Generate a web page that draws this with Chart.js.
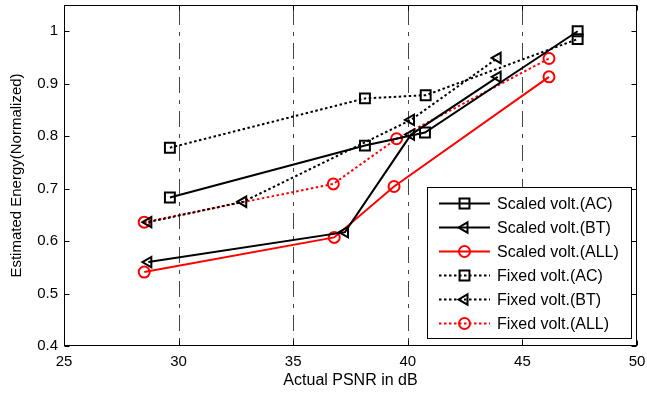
<!DOCTYPE html>
<html lang="en">
<head>
<meta charset="UTF-8" />
<title>Estimated Energy vs Actual PSNR</title>
<script src="https://cdn.jsdelivr.net/npm/chart.js@4"></script>
<style>
  html, body { margin: 0; padding: 0; background: #fff; }
  .chart-box { position: relative; width: 647px; height: 394px; }
</style>
</head>
<body>
<div class="chart-box"><canvas id="energyChart"></canvas></div>
<script>
// values
const seriesNames = [
  "Scaled volt.(AC)", "Scaled volt.(BT)", "Scaled volt.(ALL)",
  "Fixed volt.(AC)", "Fixed volt.(BT)", "Fixed volt.(ALL)"
];

const psnrScaledAC = [29.62, 38.13, 40.75, 47.41];
const energyScaledAC = [0.683, 0.782, 0.807, 1.0];
const psnrScaledBT = [28.68, 37.26, 40.14, 43.92];
const energyScaledBT = [0.560, 0.617, 0.803, 0.913];
const psnrScaledALL = [28.50, 36.79, 39.40, 46.16];
const energyScaledALL = [0.541, 0.607, 0.704, 0.913];

const psnrFixedAC = [29.62, 38.13, 40.78, 47.41];
const energyFixedAC = [0.778, 0.872, 0.878, 0.985];
const psnrFixedBT = [28.68, 32.82, 40.14, 43.92];
const energyFixedBT = [0.636, 0.675, 0.831, 0.949];
const psnrFixedALL = [28.50, 36.75, 39.51, 46.16];
const energyFixedALL = [0.636, 0.709, 0.795, 0.948];

const psnrTicks = [25, 30, 35, 40, 45, 50];
const energyTicks = [0.4, 0.5, 0.6, 0.7, 0.8, 0.9, 1.0];

const xValues = [psnrScaledAC, psnrScaledBT, psnrScaledALL, psnrFixedAC, psnrFixedBT, psnrFixedALL];
const yValues = [energyScaledAC, energyScaledBT, energyScaledALL, energyFixedAC, energyFixedBT, energyFixedALL];

// styles
const lineColors = ["#000", "#000", "#f00", "#000", "#000", "#f00"];
const dotted = [false, false, false, true, true, true];
const markers = ["rect", "triangle", "circle", "rect", "triangle", "circle"];
const markerRot = [0, -90, 0, 0, -90, 0];
const markerSize = [7, 6, 5.5, 7, 6, 5.5];
const DOTS = [2.5, 2.5];

Chart.defaults.font.family = '"Liberation Sans", Arial, Helvetica, sans-serif';
Chart.defaults.font.size = 15;
Chart.defaults.color = "#000";

function toPoints(xs, ys) {
  return xs.map((x, i) => ({ x: x, y: ys[i] }));
}

const datasets = seriesNames.map((name, i) => ({
  label: name,
  data: toPoints(xValues[i], yValues[i]),
  borderColor: lineColors[i],
  borderWidth: 2,
  borderDash: dotted[i] ? DOTS : [],
  pointStyle: markers[i],
  rotation: markerRot[i],
  pointRadius: markerSize[i],
  pointBorderWidth: 2,
  pointBorderColor: lineColors[i],
  pointBackgroundColor: "rgba(0,0,0,0)",
  tension: 0,
  fill: false
}));

function drawMarker(ctx, style, rot, r, x, y, color) {
  ctx.save();
  ctx.setLineDash([]);
  ctx.strokeStyle = color;
  ctx.lineWidth = 2;
  if (Chart.helpers && Chart.helpers.drawPoint) {
    ctx.fillStyle = "rgba(0,0,0,0)";
    Chart.helpers.drawPoint(ctx, { pointStyle: style, rotation: rot, radius: r, borderWidth: 2 }, x, y);
  } else {
    ctx.beginPath();
    if (style === "rect") {
      const s = r * Math.SQRT1_2;
      ctx.rect(x - s, y - s, 2 * s, 2 * s);
    } else if (style === "circle") {
      ctx.arc(x, y, r, 0, Math.PI * 2);
    } else {
      ctx.moveTo(x - r, y);
      ctx.lineTo(x + r / 2, y - r * 0.866);
      ctx.lineTo(x + r / 2, y + r * 0.866);
      ctx.closePath();
    }
    ctx.stroke();
  }
  ctx.restore();
}

// no extra room for edge labels: the plot box is fixed like the figure
function fixBox(s, size) {
  if (s.isHorizontal()) s.height = size; else s.width = size;
  s.paddingLeft = 0;
  s.paddingRight = 0;
  s.paddingTop = 0;
  s.paddingBottom = 0;
}

const matlabAxes = {
  id: "matlabAxes",
  beforeDatasetsDraw(chart) {
    const { ctx, chartArea: a, scales } = chart;
    ctx.save();
    ctx.strokeStyle = "#444";
    ctx.lineWidth = 1;
    ctx.setLineDash([16, 7, 4, 7]);
    psnrTicks.slice(1, -1).forEach(v => {
      const px = Math.round(scales.x.getPixelForValue(v)) + 0.5;
      ctx.beginPath();
      ctx.moveTo(px, a.top + 4);
      ctx.lineTo(px, a.bottom);
      ctx.stroke();
    });
    ctx.restore();
  },
  afterDraw(chart) {
    const { ctx, chartArea: a, scales } = chart;
    const L = Math.round(a.left) + 0.5, R = Math.round(a.right) - 0.5;
    const T = Math.round(a.top) + 0.5, B = Math.round(a.bottom) - 0.5;
    ctx.save();
    ctx.strokeStyle = "#000";
    ctx.lineWidth = 1;
    ctx.setLineDash([]);
    ctx.strokeRect(L, T, R - L, B - T);
    const tl = 5;
    ctx.beginPath();
    psnrTicks.forEach(v => {
      const px = Math.round(scales.x.getPixelForValue(v)) + 0.5;
      ctx.moveTo(px, B); ctx.lineTo(px, B - tl);
      ctx.moveTo(px, T); ctx.lineTo(px, T + tl);
    });
    energyTicks.forEach(v => {
      const py = Math.round(scales.y.getPixelForValue(v)) + 0.5;
      ctx.moveTo(L, py); ctx.lineTo(L + tl, py);
      ctx.moveTo(R, py); ctx.lineTo(R - tl, py);
    });
    ctx.stroke();

    // axis titles
    ctx.fillStyle = "#000";
    ctx.font = '16px "Liberation Sans", Arial, sans-serif';
    ctx.textAlign = "center";
    ctx.textBaseline = "middle";
    ctx.fillText("Actual PSNR in dB", (a.left + a.right) / 2, 381);
    ctx.save();
    ctx.translate(17, (a.top + a.bottom) / 2);
    ctx.rotate(-Math.PI / 2);
    ctx.font = '15px "Liberation Sans", Arial, sans-serif';
    ctx.fillText("Estimated Energy(Normalized)", 0, 0);
    ctx.restore();

    // legend box, inside the axes at lower right
    const bx = 427.5, by = 187.5, bw = 204, bh = 151, rowH = 24;
    ctx.fillStyle = "#fff";
    ctx.fillRect(bx, by, bw, bh);
    ctx.strokeRect(bx, by, bw, bh);
    ctx.font = '16px "Liberation Sans", Arial, sans-serif';
    ctx.textAlign = "left";
    chart.data.datasets.forEach((ds, i) => {
      const y = Math.round(by + 15 + i * rowH) + 0.5;
      ctx.save();
      ctx.strokeStyle = ds.borderColor;
      ctx.lineWidth = 2;
      ctx.setLineDash(ds.borderDash);
      ctx.beginPath();
      ctx.moveTo(439, y);
      ctx.lineTo(490, y);
      ctx.stroke();
      ctx.restore();
      drawMarker(ctx, ds.pointStyle, ds.rotation, ds.pointRadius, 464.5, y, ds.borderColor);
      ctx.fillStyle = "#000";
      ctx.fillText(ds.label, 497, y + 1);
    });
    ctx.restore();
  }
};

new Chart(document.getElementById("energyChart").getContext("2d"), {
  type: "line",
  data: { datasets: datasets },
  options: {
    responsive: true,
    maintainAspectRatio: false,
    animation: false,
    layout: { autoPadding: false, padding: { top: 5, right: 10, left: 0, bottom: 0 } },
    plugins: {
      legend: { display: false },
      tooltip: { enabled: false }
    },
    scales: {
      x: {
        type: "linear",
        min: 25,
        max: 50,
        afterBuildTicks: s => { s.ticks = psnrTicks.map(v => ({ value: v })); },
        afterFit: s => fixBox(s, 48),
        grid: { display: false, drawTicks: false },
        border: { display: false },
        ticks: { autoSkip: false, maxRotation: 0, padding: 7, font: { size: 15 } }
      },
      y: {
        type: "linear",
        min: 0.4,
        max: 1.05,
        afterBuildTicks: s => { s.ticks = energyTicks.map(v => ({ value: v })); },
        afterFit: s => fixBox(s, 64),
        grid: { display: false, drawTicks: false },
        border: { display: false },
        ticks: { padding: 6, font: { size: 15 }, callback: v => String(Math.round(v * 10) / 10) }
      }
    }
  },
  plugins: [matlabAxes]
});
</script>
</body>
</html>
